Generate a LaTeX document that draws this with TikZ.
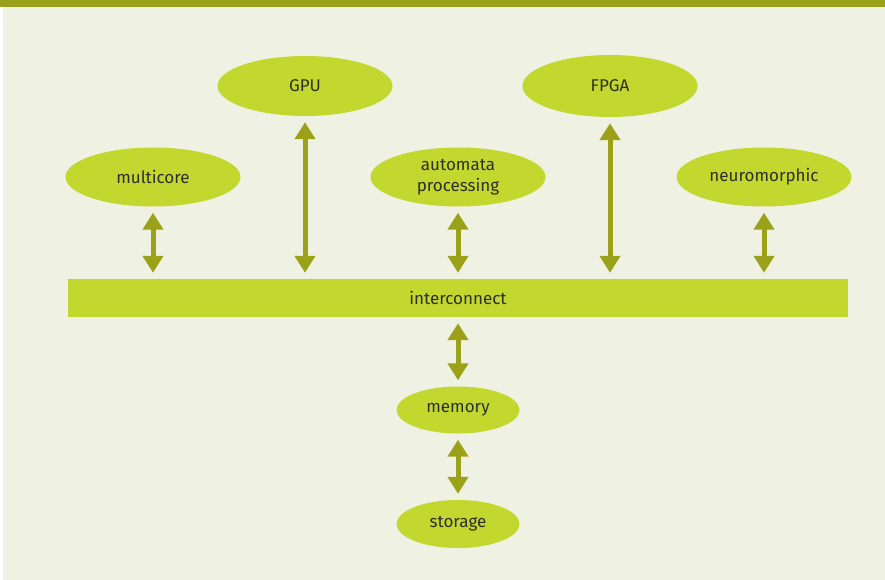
\documentclass[tikz,border=0pt]{standalone}
\usepackage{fontspec}
\setmainfont{Fira Sans}
\usetikzlibrary{shapes.geometric,arrows.meta}
\definecolor{bar}{HTML}{9BA11A}
\definecolor{panel}{HTML}{EFF1E3}
\definecolor{lime}{HTML}{C2D82F}
\definecolor{arr}{HTML}{9BA219}
\definecolor{txt}{HTML}{2E2E2E}
\tikzset{
  lbl/.style={font=\fontsize{17}{21}\selectfont, text=txt},
  blob/.style={ellipse, fill=lime, draw=none, inner sep=0pt, minimum width=#1, lbl, align=center},
  blob/.default=175pt,
  link/.style={draw=arr, line width=5pt, {Triangle[width=20pt,length=17pt]}-{Triangle[width=20pt,length=17pt]}, shorten <=6pt, shorten >=6pt}
}
\begin{document}
\begin{tikzpicture}[x=1pt,y=-1pt]
\useasboundingbox (0,0) rectangle (885,580);
\fill[white] (0,0) rectangle (885,580);
\fill[panel] (3,7) rectangle (885,580);
\fill[bar] (0,0) rectangle (885,7);
\node[blob, minimum height=60pt] (gpu) at (305,86) {GPU};
\node[blob, minimum height=62pt] (fpga) at (610,86) {FPGA};
\node[blob, minimum height=59pt] (mc) at (153,177) {multicore};
\node[blob, minimum height=59pt] (ap) at (458,177) {automata\\processing};
\node[blob, minimum height=59pt] (nm) at (764,177) {neuromorphic};
\node[fill=lime, minimum width=780pt, minimum height=38pt, inner sep=0pt, lbl] (ic) at (458,298) {interconnect};
\node[blob=123pt, minimum height=47pt] (mem) at (458,410) {memory};
\node[blob=123pt, minimum height=48pt] (sto) at (458,524) {storage};
\foreach \n in {gpu,fpga,mc,ap,nm}
  \draw[link] (\n.south) -- (\n.south |- ic.north);
\draw[link] (ic.south -| mem.north) -- (mem.north);
\draw[link] (mem.south) -- (sto.north);
\end{tikzpicture}
\end{document}
